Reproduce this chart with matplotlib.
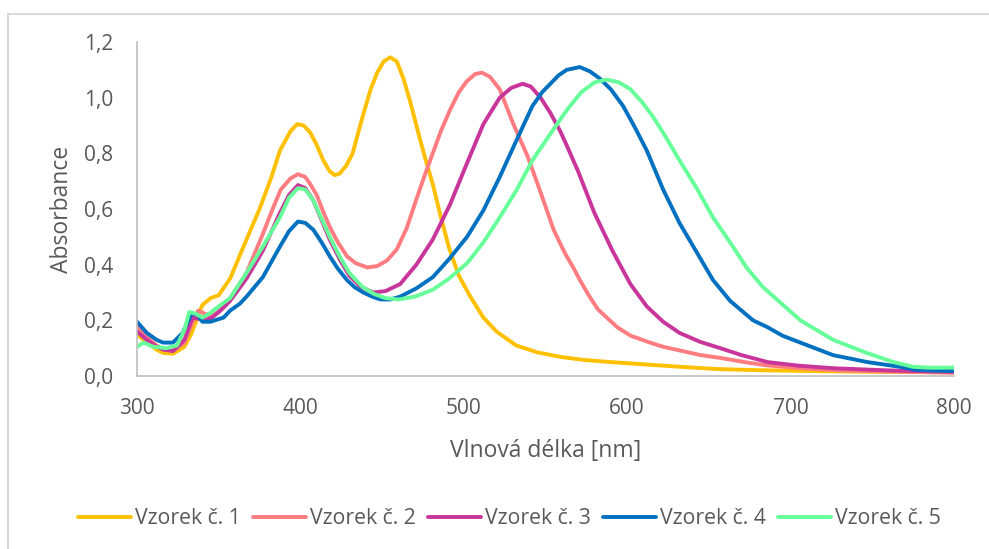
import numpy as np
import matplotlib.pyplot as plt
from matplotlib.ticker import FuncFormatter, MultipleLocator

plt.rcParams['font.family'] = ['Open Sans', 'DejaVu Sans']

# Vzorek c. 1
wl1 = [300, 306, 312, 316, 322, 329, 333.5, 337, 340, 345, 350, 357, 367, 375, 382,
       387.5, 394, 398, 402, 406, 410, 414, 418, 421, 424, 428, 432, 438, 443, 447,
       451, 455, 459, 463, 467, 471, 476, 481, 486, 491, 497, 504, 512, 520, 532,
       545, 560, 573, 590, 610, 630, 655, 680, 710, 750, 800]
abs1 = [0.15, 0.12, 0.095, 0.083, 0.08, 0.105, 0.155, 0.21, 0.255, 0.28, 0.29, 0.35,
        0.49, 0.6, 0.71, 0.81, 0.88, 0.905, 0.9, 0.875, 0.83, 0.775, 0.735, 0.722,
        0.727, 0.755, 0.8, 0.93, 1.03, 1.09, 1.13, 1.145, 1.13, 1.07, 0.99, 0.9, 0.79,
        0.69, 0.57, 0.46, 0.36, 0.285, 0.21, 0.16, 0.11, 0.085, 0.068, 0.058, 0.05,
        0.042, 0.034, 0.025, 0.021, 0.018, 0.015, 0.013]

# Vzorek c. 2
wl2 = [300, 306, 312, 316, 322, 329, 333, 337.5, 341, 345, 350, 357, 367, 377, 383,
       388, 394, 398.5, 403, 406, 410, 414, 418, 423, 428.5, 434, 441, 447, 453, 459,
       465, 471, 476, 481, 486, 491.5, 497, 502, 507, 511, 516, 522, 530, 539, 547,
       555, 562, 567, 571, 577, 582, 594, 602, 614, 622, 645, 657, 675, 686, 706,
       730, 760, 800]
abs2 = [0.18, 0.14, 0.11, 0.095, 0.09, 0.12, 0.18, 0.235, 0.225, 0.215, 0.23, 0.28,
        0.37, 0.51, 0.6, 0.67, 0.71, 0.725, 0.715, 0.69, 0.65, 0.59, 0.535, 0.48, 0.43,
        0.405, 0.39, 0.395, 0.415, 0.455, 0.53, 0.635, 0.72, 0.8, 0.88, 0.955, 1.02,
        1.06, 1.085, 1.09, 1.075, 1.03, 0.91, 0.79, 0.66, 0.525, 0.44, 0.39, 0.345,
        0.285, 0.24, 0.175, 0.145, 0.12, 0.105, 0.075, 0.065, 0.047, 0.038, 0.028,
        0.02, 0.016, 0.012]

# Vzorek c. 3
wl3 = [300, 306, 312, 316, 322, 329, 334, 338, 341, 346, 352, 357, 367, 377, 387,
       393, 398.5, 403, 408, 413, 418, 424, 430, 437, 444.5, 452, 461, 471, 481,
       491.5, 502, 512, 522, 529, 536, 541, 547, 553, 559, 564, 570, 575, 580, 591,
       602, 612, 622, 632, 644.5, 657, 670, 686, 705, 726, 760, 800]
abs3 = [0.16, 0.13, 0.105, 0.095, 0.09, 0.13, 0.21, 0.205, 0.2, 0.21, 0.24, 0.27,
        0.35, 0.45, 0.58, 0.65, 0.686, 0.675, 0.63, 0.56, 0.49, 0.42, 0.36, 0.32, 0.3,
        0.305, 0.33, 0.4, 0.49, 0.615, 0.765, 0.905, 1.0, 1.035, 1.05, 1.04, 1.0, 0.945,
        0.88, 0.815, 0.735, 0.66, 0.585, 0.45, 0.33, 0.25, 0.195, 0.155, 0.123, 0.1,
        0.075, 0.05, 0.037, 0.028, 0.02, 0.015]

# Vzorek c. 4
wl4 = [300, 306, 312, 316, 322, 328, 333.5, 337, 340, 345, 353, 357, 363, 367, 377,
       387.5, 393, 398.5, 403, 408, 413, 418, 423, 428.5, 433, 438.5, 444, 449, 455,
       461, 471, 481, 491, 502, 512, 522, 532.5, 542, 548, 553, 558, 563, 571, 577,
       583, 590, 597.5, 605, 612, 617, 622, 632, 643, 652.5, 663, 677, 686, 695, 706,
       726, 747, 767, 777, 790, 800]
abs4 = [0.195, 0.155, 0.13, 0.12, 0.12, 0.155, 0.225, 0.22, 0.195, 0.195, 0.21, 0.235,
        0.26, 0.285, 0.355, 0.465, 0.52, 0.555, 0.55, 0.525, 0.48, 0.43, 0.385, 0.345,
        0.32, 0.3, 0.285, 0.275, 0.275, 0.285, 0.315, 0.355, 0.42, 0.5, 0.595, 0.715,
        0.85, 0.97, 1.02, 1.05, 1.08, 1.1, 1.11, 1.095, 1.07, 1.03, 0.97, 0.89, 0.81,
        0.74, 0.67, 0.55, 0.44, 0.345, 0.27, 0.2, 0.175, 0.145, 0.12, 0.075, 0.05,
        0.033, 0.022, 0.019, 0.018]

# Vzorek c. 5
wl5 = [300, 304, 310, 318, 324.5, 329, 332, 335.5, 340, 344.5, 350, 357, 367, 377,
       387.5, 393, 398.5, 403, 408, 413, 418, 424, 430, 438, 445, 452, 460, 470, 481,
       491, 502, 512, 522, 532.5, 542, 553, 563, 572, 580, 587.5, 595, 602, 609, 616,
       624, 632, 643, 652.5, 663, 673, 683, 693.5, 706, 726, 747, 763, 775, 785, 800]
abs5 = [0.105, 0.12, 0.105, 0.1, 0.11, 0.165, 0.23, 0.225, 0.21, 0.225, 0.25, 0.28,
        0.37, 0.465, 0.57, 0.64, 0.675, 0.67, 0.63, 0.565, 0.5, 0.43, 0.37, 0.32, 0.295,
        0.28, 0.275, 0.285, 0.31, 0.35, 0.405, 0.48, 0.57, 0.67, 0.775, 0.87, 0.955,
        1.02, 1.055, 1.065, 1.055, 1.03, 0.985, 0.93, 0.855, 0.775, 0.67, 0.57, 0.48,
        0.39, 0.32, 0.265, 0.2, 0.13, 0.082, 0.05, 0.033, 0.03, 0.03]

labels = ['Vzorek č. 1', 'Vzorek č. 2', 'Vzorek č. 3', 'Vzorek č. 4', 'Vzorek č. 5']
colors = ['#FFC000', '#FF7C80', '#C8359B', '#0070C0', '#66FF99']

fig = plt.figure(figsize=(9.89, 5.49), dpi=100)
ax = fig.add_axes([0.1385, 0.3151, 0.8261, 0.6084])

# outer chart frame (cut off at right and bottom)
fig.patches.append(plt.Rectangle((8 / 989, -0.1), 1.2, (549 - 14) / 549 + 0.1,
                                 transform=fig.transFigure, fill=False,
                                 ec='#D9D9D9', lw=1.5))

series = [(wl1, abs1), (wl2, abs2), (wl3, abs3), (wl4, abs4), (wl5, abs5)]
for (wl, ab), c, lab in zip(series, colors, labels):
    ax.plot(wl, ab, color=c, lw=2.8, label=lab, solid_capstyle='round',
            solid_joinstyle='round')

ax.set_xlim(300, 800)
ax.set_ylim(0, 1.2)
ax.xaxis.set_major_locator(MultipleLocator(100))
ax.yaxis.set_major_locator(MultipleLocator(0.2))
ax.yaxis.set_major_formatter(FuncFormatter(lambda v, p: f'{v:.1f}'.replace('.', ',')))

for s in ['top', 'right']:
    ax.spines[s].set_visible(False)
for s in ['left', 'bottom']:
    ax.spines[s].set_color('#BFBFBF')
    ax.spines[s].set_linewidth(1.2)

ax.tick_params(length=0, labelsize=15, labelcolor='#595959')
ax.tick_params(axis='x', pad=16)
ax.tick_params(axis='y', pad=17)
ax.set_xlabel('Vlnová délka [nm]', fontsize=16.5, color='#595959', labelpad=14)
ax.set_ylabel('Absorbance', fontsize=16.5, color='#595959', labelpad=7)

fig.legend(*ax.get_legend_handles_labels(), loc='center', bbox_to_anchor=(0.515, 0.055),
           ncol=5, frameon=False, fontsize=15.3, handlelength=2.5, handletextpad=0.2,
           columnspacing=0.55, labelcolor='#595959')

fig.savefig('out.png', dpi=100)
